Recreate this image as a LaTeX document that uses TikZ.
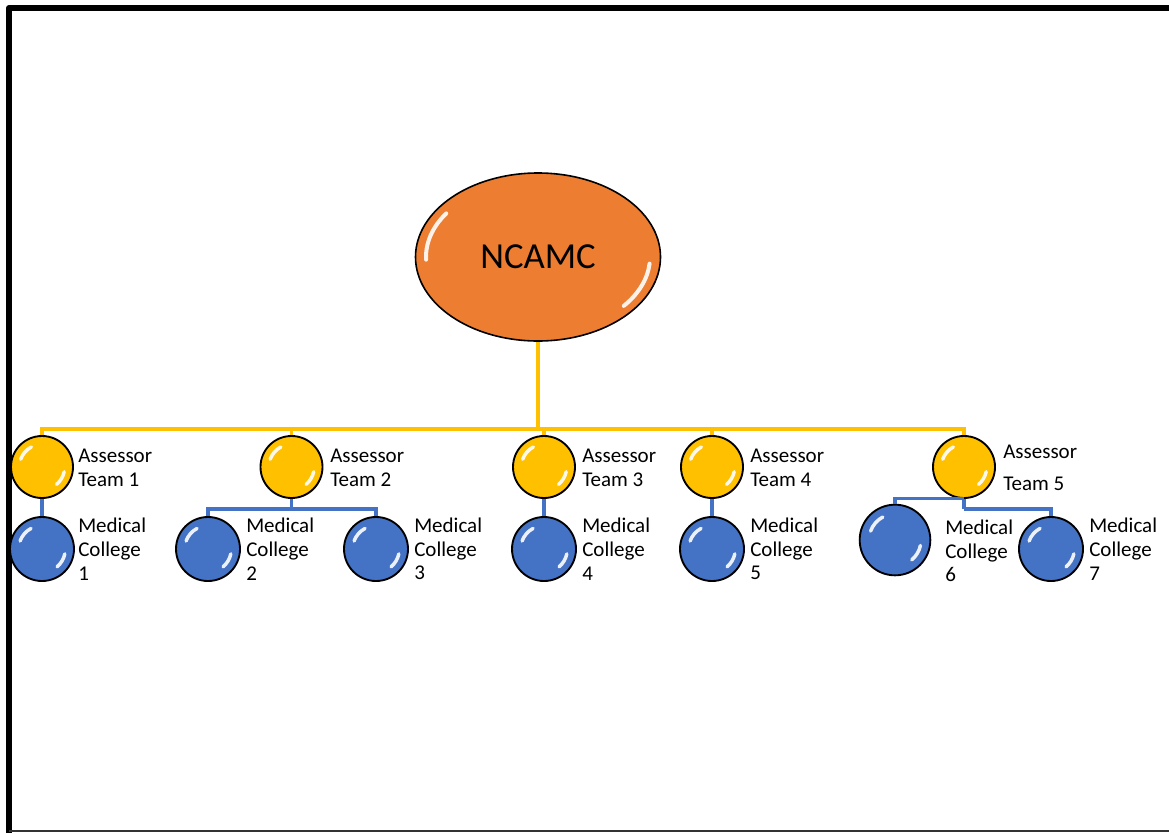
\documentclass[tikz,border=0pt]{standalone}
\usepackage{fontspec}
\setmainfont{Carlito}
\usetikzlibrary{shapes.geometric}
\definecolor{cOrange}{HTML}{ED7D31}
\definecolor{cOrangeD}{HTML}{DA6E26}
\definecolor{cYellow}{HTML}{FFC000}
\definecolor{cYellowD}{HTML}{E9AE00}
\definecolor{cBlue}{HTML}{4472C4}
\definecolor{cBlueD}{HTML}{3963B2}
\pgfdeclareradialshading{orbO}{\pgfpointorigin}{color(0bp)=(cOrange); color(40bp)=(cOrange); color(50bp)=(cOrangeD)}
\pgfdeclareradialshading{orbY}{\pgfpointorigin}{color(0bp)=(cYellow); color(36bp)=(cYellow); color(50bp)=(cYellowD)}
\pgfdeclareradialshading{orbB}{\pgfpointorigin}{color(0bp)=(cBlue); color(36bp)=(cBlue); color(50bp)=(cBlueD)}
\tikzset{
  ball/.style={circle, draw=black, line width=1.4pt, inner sep=0pt},
  team/.style={ball, minimum size=46.5pt, shading=orbY},
  college/.style={ball, minimum size=48pt, shading=orbB},
  lbl/.style={anchor=west, align=left, inner sep=0pt, font=\fontsize{15.75}{17.8}\selectfont},
  ylink/.style={draw=cYellow, line width=2.3pt},
  blink/.style={draw=cBlue, line width=2.3pt},
  hl/.style={white, line width=2.6pt, line cap=round, opacity=0.9},
}
\newcommand{\shine}[2]{%
  \draw[hl] ([shift={(118:#2)}]#1.center) arc[start angle=118,end angle=160,radius=#2];
  \draw[hl] ([shift={(-12:#2)}]#1.center) arc[start angle=-12,end angle=-50,radius=#2];
}
\begin{document}
\begin{tikzpicture}[x=0.75pt,y=-0.75pt]
\useasboundingbox (0,0) rectangle (1169,832);
% frame
\draw[line width=4.5pt, line join=round] (9,840) -- (9,8) -- (1180,8);
\draw[line width=1.1pt, black!80] (9,831) -- (1180,831);

% top node
\node[ellipse, draw=black, line width=1.2pt, minimum width=183.75pt, minimum height=126pt,
      shading=orbO, font=\fontsize{27.5}{30}\selectfont] (nc) at (538,257) {NCAMC};
\draw[hl, line width=3pt] ([shift={(145:84pt and 57pt)}]nc.center) arc[start angle=145,end angle=182,x radius=84pt,y radius=57pt];
\draw[hl, line width=3pt] ([shift={(-5:84pt and 57pt)}]nc.center) arc[start angle=-5,end angle=-40,x radius=84pt,y radius=57pt];

% assessor teams
\node[team] (t1) at (42,467) {};
\node[team] (t2) at (291.5,467) {};
\node[team] (t3) at (544,467) {};
\node[team] (t4) at (712,467) {};
\node[team] (t5) at (964,467) {};

% colleges
\node[college] (m1) at (42,549) {};
\node[college] (m2) at (208,549) {};
\node[college] (m3) at (376,549) {};
\node[college] (m4) at (544,549) {};
\node[college] (m5) at (712,549) {};
\node[college, minimum size=53pt] (m6) at (895,540) {};
\node[college] (m7) at (1051,549) {};

\foreach \n in {t1,t2,t3,t4,t5} {\shine{\n}{17pt}}
\foreach \n in {m1,m2,m3,m4,m5,m7} {\shine{\n}{17.5pt}}
\shine{m6}{19.5pt}

% yellow connectors
\coordinate (bus) at (538,429);
\draw[ylink] (nc.south) -- (bus);
\foreach \n in {t1,t2,t3,t4,t5} {\draw[ylink] (bus) -| (\n.north);}

% blue connectors
\draw[blink] (t1.south) -- (m1.north);
\coordinate (b2) at (291.5,509);
\draw[blink] (t2.south) -- (b2);
\draw[blink] (b2) -| (m2.north);
\draw[blink] (b2) -| (m3.north);
\draw[blink] (t3.south) -- (m4.north);
\draw[blink] (t4.south) -- (m5.north);
\draw[blink] (t5.south) -| (m6.north);
\coordinate (b5) at (964,509);
\draw[blink] (t5.south) -- (b5);
\draw[blink] (b5) -| (m7.north);

% labels
\node[lbl] (lt1) at (78,468) {Assessor\\Team 1};
\node[lbl] (lt2) at (330,468) {Assessor\\Team 2};
\node[lbl] (lt3) at (582,468) {Assessor\\Team 3};
\node[lbl] (lt4) at (750,468) {Assessor\\Team 4};
\node[lbl] (lt5) at (1003,468) {Assessor\\[6pt]Team 5};

\node[lbl] (lm1) at (78,549) {Medical\\College\\1};
\node[lbl] (lm2) at (246,549) {Medical\\College\\2};
\node[lbl] (lm3) at (414,549) {Medical\\College\\3};
\node[lbl] (lm4) at (582,549) {Medical\\College\\4};
\node[lbl] (lm5) at (750,549) {Medical\\College\\5};
\node[lbl] (lm6) at (945,551) {Medical\\College\\6};
\node[lbl] (lm7) at (1089,549) {Medical\\College\\7};
\end{tikzpicture}
\end{document}
